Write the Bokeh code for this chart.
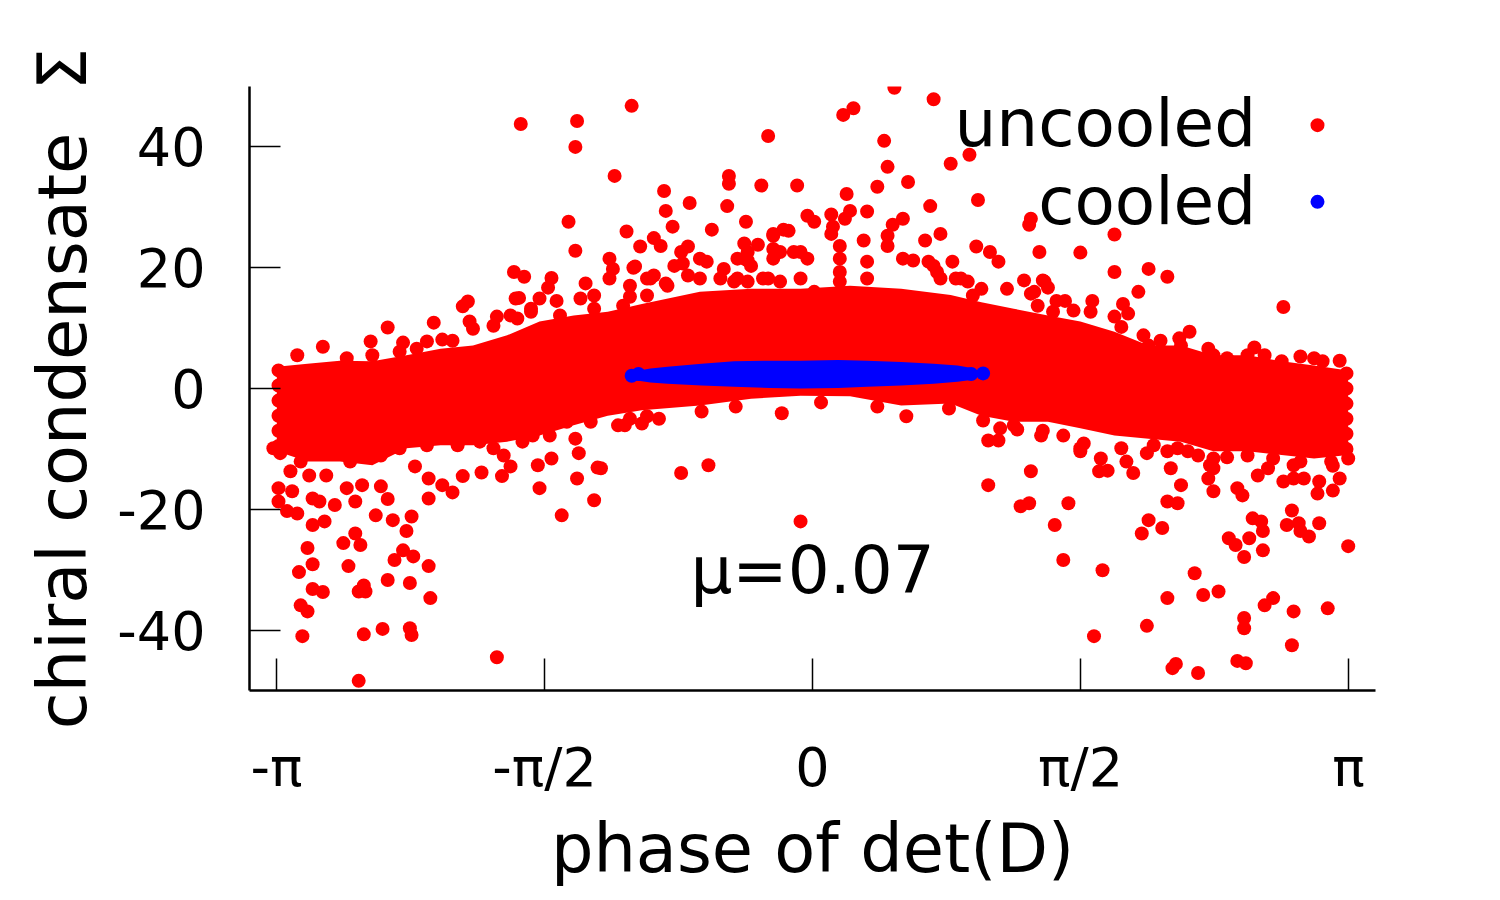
import numpy as np
from bokeh.plotting import figure
from bokeh.models import FixedTicker, Label, Range1d, CustomJSTickFormatter
from bokeh.embed import file_html
from bokeh.resources import INLINE
from bokeh.core.properties import value

FONT = "DejaVu Sans"

# ---- axes ----
x_ticks = [-np.pi, -np.pi / 2, 0.0, np.pi / 2, np.pi]
x_tick_labels = ["-π", "-π/2", "0", "π/2", "π"]
y_ticks = [-40, -20, 0, 20, 40]

# ---- dense core of the uncooled cloud (envelope) ----
band_x = [-3.14, -2.96, -2.77, -2.58, -2.38, -2.18, -1.99, -1.79, -1.60, -1.40,
          -1.20, -1.00, -0.66, -0.36, -0.07, 0.22, 0.52, 0.81, 0.99, 1.18,
          1.38, 1.57, 1.77, 1.97, 2.16, 2.35, 2.55, 2.75, 2.94, 3.14]
band_hi = [3.6, 4.1, 4.6, 4.5, 5.5, 6.6, 7.1, 8.8, 11.1, 12.1,
           12.7, 14.0, 16.0, 16.5, 16.5, 17.0, 16.5, 15.5, 14.3, 13.2,
           12.1, 11.1, 9.4, 7.1, 7.1, 5.5, 5.5, 4.5, 3.8, 3.0]
band_lo = [-10.4, -12.1, -12.1, -12.7, -9.9, -9.4, -9.4, -8.8, -7.8, -6.1,
           -4.5, -3.6, -2.8, -1.7, -1.2, -1.3, -2.8, -2.5, -4.5, -5.5,
           -5.5, -6.6, -7.8, -8.3, -8.8, -10.4, -10.4, -11.0, -11.6, -11.0]

# ---- individual uncooled points above the core ----
uncooled_upper = [
    (0.48, 49.8), (0.71, 47.9), (-1.06, 46.8), (-1.71, 43.8), (-1.38, 44.3), (-1.39, 40.0),
    (0.18, 45.3), (0.24, 46.4), (0.42, 41.0), (-0.26, 41.8), (0.92, 38.7), (0.81, 37.2),
    (-1.16, 35.2), (-0.49, 35.2), (-0.49, 33.9), (0.44, 36.7), (0.56, 34.2), (-0.09, 33.6),
    (-0.30, 33.6), (-0.87, 32.7), (0.97, 31.2), (0.38, 33.4), (0.20, 32.2), (-0.72, 30.7),
    (-0.50, 30.2), (-0.86, 29.4), (-1.43, 27.6), (-0.39, 27.6), (0.69, 30.2), (-0.82, 26.8),
    (-0.59, 26.3), (-1.09, 26.0), (-1.39, 22.8), (-1.01, 23.5), (-0.93, 24.9), (-1.19, 21.5),
    (-1.04, 20.2), (-1.75, 19.3), (-1.69, 18.5), (-1.53, 18.3), (-1.33, 17.4), (-0.32, 23.8),
    (-0.40, 24.0), (-2.02, 14.4), (-2.05, 13.6), (-2.01, 11.1), (-2.22, 10.9), (-2.49, 10.1),
    (-1.85, 11.9), (-1.74, 14.9), (-3.02, 5.5), (-2.87, 6.9), (-2.59, 7.8), (-2.40, 7.6),
    (-2.26, 7.8), (-2.17, 8.1), (-1.72, 15.0), (-1.60, 14.9), (-1.55, 16.7), (-1.50, 14.5),
    (-1.17, 19.8), (-1.19, 18.2), (-1.07, 17.0), (-1.07, 15.2), (0.32, 29.3), (0.53, 28.1),
    (0.47, 27.1), (0.11, 28.8), (0.22, 29.4), (0.19, 28.1), (-0.03, 28.6), (0.01, 27.6),
    (-0.14, 26.1), (0.75, 25.6), (0.66, 24.5), (0.96, 23.5), (1.04, 22.6), (1.09, 21.0),
    (1.28, 28.1), (1.27, 27.1), (1.33, 22.6), (-0.23, 25.6), (-0.17, 26.3), (0.12, 26.8),
    (0.11, 25.6), (0.16, 23.6), (0.16, 21.5), (0.16, 19.3), (0.16, 17.7), (0.30, 24.5),
    (0.32, 21.0), (0.32, 18.2), (0.44, 25.3), (0.44, 23.6), (0.53, 21.5), (0.59, 21.2),
    (0.68, 21.0), (0.82, 21.0), (0.75, 18.2), (0.87, 18.2), (0.91, 17.7), (-1.05, 20.0),
    (-0.97, 18.2), (-0.93, 18.7), (-0.89, 23.6), (-0.77, 22.6), (-0.73, 23.5), (-0.66, 21.5),
    (-0.62, 21.0), (-0.81, 20.3), (-0.76, 20.7), (-0.86, 17.4), (-0.52, 19.8), (-0.44, 21.5),
    (-0.38, 21.2), (-0.38, 22.6), (-0.44, 18.2), (-0.38, 17.7), (-0.23, 23.1), (-0.19, 22.6),
    (-0.11, 22.6), (-0.07, 22.6), (-0.03, 21.5), (-0.26, 18.2), (-0.19, 17.7), (-0.07, 18.2),
    (0.01, 16.0), (0.71, 20.3), (0.73, 19.3), (0.84, 18.2), (0.99, 16.5), (0.94, 15.4),
    (1.14, 16.5), (1.24, 17.9), (1.30, 16.0), (1.36, 17.7), (1.32, 13.7), (1.57, 22.5),
    (1.77, 19.3), (1.97, 19.8), (2.08, 18.5), (1.91, 16.0), (2.76, 13.5), (1.35, 17.9),
    (1.38, 16.7), (1.28, 15.7), (1.43, 14.5), (1.48, 14.5), (1.41, 12.7), (1.53, 12.9),
    (1.64, 14.5), (1.63, 12.7), (1.82, 14.0), (1.85, 12.4), (1.77, 11.9), (1.81, 10.2),
    (1.94, 8.8), (2.04, 7.9), (2.15, 8.3), (2.21, 9.4), (2.32, 6.6), (2.43, 5.0),
    (2.59, 6.8), (2.65, 5.5), (2.86, 5.3), (2.99, 4.5), (3.09, 4.6), (1.77, 25.5),
    (-1.36, 14.9), (-1.28, 15.4), (-0.95, 18.2), (-0.97, 15.4), (-0.85, 17.0), (-0.73, 18.7),
    (-0.66, 18.2), (-0.54, 18.2), (-0.46, 17.7), (-0.29, 18.2), (-0.23, 21.5), (-0.23, 25.3),
    (-0.40, 21.5), (-0.36, 20.3), (-1.73, 11.6), (-1.65, 13.2),
]

# ---- individual uncooled points below the core ----
uncooled_lower = [
    (-3.12, -10.7), (-3.13, -16.5), (-3.05, -17.0), (-3.13, -18.7), (-3.08, -20.3), (-3.02, -20.7),
    (-2.93, -18.2), (-2.89, -18.7), (-2.80, -19.3), (-2.93, -22.6), (-2.86, -22.0), (-2.96, -26.4),
    (-2.93, -29.1), (-3.01, -30.4), (-2.93, -33.2), (-2.87, -33.7), (-3.00, -35.9), (-2.96, -36.9),
    (-2.99, -41.0), (-2.66, -48.4), (-2.63, -40.7), (-2.52, -39.8), (-2.36, -39.7), (-2.35, -40.8),
    (-2.66, -33.6), (-2.62, -33.6), (-2.63, -32.6), (-2.72, -29.4), (-2.75, -25.6), (-2.68, -24.0),
    (-2.65, -25.9), (-2.49, -31.7), (-2.36, -32.2), (-2.24, -34.7), (-2.25, -29.4), (-2.45, -28.4),
    (-2.40, -26.8), (-2.34, -27.8), (-2.56, -21.0), (-2.46, -21.8), (-2.38, -23.6), (-2.35, -21.2),
    (-2.68, -18.7), (-2.49, -18.3), (-2.64, -16.0), (-2.53, -16.2), (-2.73, -16.5), (-3.06, -13.7),
    (-2.95, -14.4), (-2.85, -14.4), (-2.33, -12.9), (-2.25, -14.9), (-2.25, -18.2), (-2.17, -16.0),
    (-2.11, -17.2), (-2.05, -14.5), (-1.94, -13.9), (-1.82, -14.5), (-1.77, -12.9), (-1.60, -16.5),
    (-1.47, -21.0), (-1.85, -44.5), (-1.28, -18.5), (-1.38, -14.9), (-1.26, -13.1), (-1.61, -12.7),
    (-1.53, -11.6), (-1.37, -10.7), (-1.39, -8.3), (-1.14, -6.1), (-0.18, -4.1), (-0.61, -12.7),
    (-0.77, -14.0), (1.03, -8.6), (1.09, -8.6), (1.34, -7.8), (1.28, -13.7), (0.55, -4.6),
    (-1.07, -5.0), (-0.97, -4.6), (-1.24, -13.2), (-0.07, -22.0), (1.03, -16.0), (1.22, -19.5),
    (1.27, -19.0), (1.42, -22.6), (1.00, -5.3), (1.47, -28.4), (1.50, -19.0), (1.65, -41.0),
    (1.70, -30.1), (1.57, -10.4), (1.59, -9.1), (1.69, -11.6), (1.73, -13.6), (1.68, -13.7),
    (1.88, -14.0), (1.84, -12.1), (1.96, -10.7), (1.97, -21.8), (1.93, -24.0), (2.05, -23.1),
    (2.08, -18.7), (2.14, -19.0), (2.16, -16.0), (2.10, -13.2), (2.08, -10.4), (2.14, -9.9),
    (2.24, -30.6), (2.08, -34.7), (1.96, -39.3), (2.29, -34.2), (2.38, -33.6), (2.11, -46.3),
    (2.13, -45.6), (2.26, -47.1), (2.49, -45.1), (2.54, -45.5), (2.53, -38.0), (2.53, -39.7),
    (2.81, -42.5), (3.02, -36.4), (2.65, -35.9), (2.70, -34.7), (2.82, -36.9), (2.44, -24.8),
    (2.48, -25.9), (2.56, -24.8), (2.53, -27.9), (2.64, -26.8), (2.58, -21.5), (2.63, -22.0),
    (2.64, -23.6), (2.81, -20.2), (2.78, -22.6), (2.85, -22.3), (2.86, -23.6), (2.91, -24.5),
    (2.97, -22.3), (3.14, -26.1), (2.35, -17.0), (2.32, -14.9), (2.35, -13.2), (2.52, -17.7),
    (2.49, -16.5), (2.76, -15.4), (2.82, -14.9), (2.88, -14.9), (2.96, -17.4), (2.97, -15.4),
    (3.05, -16.9), (3.09, -14.9), (2.82, -12.7), (2.61, -14.4), (2.67, -13.2), (2.43, -11.4),
    (2.26, -11.1), (2.33, -12.7), (3.05, -12.8), (3.14, -11.6), (-1.10, -6.1), (-1.00, -5.8),
    (-0.90, -5.0), (-0.65, -3.8), (-0.45, -3.0), (0.05, -2.3), (0.38, -3.0), (0.80, -3.3),
    (1.10, -6.6), (1.20, -6.8), (1.35, -7.0),
]

# ---- uncooled points forming the ragged rim of the core ----
uncooled_rim = [
    (-3.13, -9.5), (-3.13, -7.0), (-3.13, -4.5), (-3.13, -2.0), (-3.13, 0.5), (-3.13, 3.0),
    (3.13, -10.0), (3.13, -7.5), (3.13, -5.0), (3.13, -2.5), (3.13, 0.0), (3.13, 2.5),
    (-2.73, 5.0), (-2.58, 5.5), (-2.42, 6.1), (-2.32, 6.6), (-2.11, 7.9), (-1.99, 9.9),
    (-1.87, 10.4), (-1.77, 12.1), (-1.65, 12.7), (-1.48, 12.1), (-1.28, 13.2), (-1.11, 13.7),
    (-3.16, -9.9), (-3.00, -12.1), (-2.71, -12.1), (-2.53, -11.1), (-2.42, -9.9), (-2.26, -9.4),
    (-2.08, -9.4), (-1.95, -8.8), (-1.87, -9.9), (-1.81, -11.1), (-1.70, -8.8), (-1.64, -7.8),
    (-1.54, -7.8), (-1.44, -5.5), (-1.30, -5.5), (1.97, 7.1), (2.16, 7.1), (2.35, 5.5),
    (2.55, 5.5), (2.75, 4.5), (2.94, 5.0), (1.18, -6.1), (1.47, -7.8), (1.57, -9.9),
    (1.81, -9.9), (2.00, -9.4), (2.20, -10.4), (2.35, -11.6), (2.55, -11.1), (2.70, -11.6),
    (2.86, -12.1), (3.04, -12.1), (3.12, -9.9),
]

# ---- cooled configurations: dense blob envelope and its end points ----
cooled_band_x = [-1.05, -0.95, -0.85, -0.65, -0.46, -0.25, -0.07, 0.15, 0.32, 0.52, 0.71, 0.85, 0.95]
cooled_lo = [1.4, 1.0, 0.8, 0.5, 0.3, 0.1, 0.0, 0.1, 0.3, 0.5, 0.8, 1.1, 1.5]
cooled_hi = [2.8, 3.3, 3.6, 4.1, 4.5, 4.6, 4.6, 4.7, 4.6, 4.4, 4.1, 3.8, 3.3]
cooled_points = [(-1.06, 2.1), (-1.02, 2.4), (0.93, 2.4), (1.00, 2.5)]

RED = "#ff0000"
BLUE = "#0000ff"
DOT = 14

p = figure(frame_width=1126, frame_height=604,
           x_range=Range1d(-3.3, 3.3), y_range=Range1d(-50, 50),
           output_backend="svg", toolbar_location=None,
           min_border_left=249, min_border_right=100,
           min_border_top=86, min_border_bottom=194)
p.outline_line_color = None
p.xgrid.visible = False
p.ygrid.visible = False
p.background_fill_color = "white"
p.border_fill_color = "white"

# uncooled
p.varea(x=band_x, y1=band_lo, y2=band_hi, fill_color=RED, fill_alpha=1.0)
for pts in (uncooled_upper, uncooled_lower, uncooled_rim):
    xs, ys = zip(*pts)
    p.scatter(list(xs), list(ys), size=DOT, fill_color=RED, line_color=None)

# cooled
p.varea(x=cooled_band_x, y1=cooled_lo, y2=cooled_hi, fill_color=BLUE, fill_alpha=1.0)
cx, cy = zip(*cooled_points)
p.scatter(list(cx), list(cy), size=DOT, fill_color=BLUE, line_color=None)

# key (label text left, marker right)
key_labels = ["uncooled", "cooled"]
key_colors = [RED, BLUE]
key_text_x = 2.60
key_text_y = [43.8, 30.9]
key_mark_x = 2.96
key_mark_y = [43.6, 30.9]
p.text(x=[key_text_x] * 2, y=key_text_y, text=key_labels, text_align="right",
       text_baseline="alphabetic", text_font_size="66px", text_font=value(FONT),
       text_color="black")
p.scatter(x=[key_mark_x] * 2, y=key_mark_y, size=DOT, fill_color=key_colors, line_color=None)

p.add_layout(Label(x=0.0, y=-30.2, text="μ=0.07", text_align="center",
                   text_baseline="alphabetic", text_font_size="66px",
                   text_font=FONT, text_color="black"))

# axes
p.xaxis.ticker = FixedTicker(ticks=x_ticks)
p.xaxis.formatter = CustomJSTickFormatter(
    args=dict(ts=x_ticks, labs=x_tick_labels),
    code="""let b = 0; for (let i = 0; i < ts.length; i++) {
        if (Math.abs(ts[i] - tick) < Math.abs(ts[b] - tick)) b = i; }
        return labs[b];""")
p.yaxis.ticker = FixedTicker(ticks=y_ticks)
p.yaxis.formatter = CustomJSTickFormatter(code="return String(Math.round(tick));")

for ax in (p.xaxis[0], p.yaxis[0]):
    ax.major_tick_out = 0
    ax.minor_tick_in = 0
    ax.minor_tick_out = 0
    ax.axis_line_width = 2.5
    ax.axis_line_color = "black"
    ax.major_tick_line_width = 1.5
    ax.major_tick_line_color = "black"
    ax.major_label_text_font = FONT
    ax.major_label_text_font_size = "54px"
    ax.major_label_text_color = "black"
    ax.axis_label_text_font = FONT
    ax.axis_label_text_font_size = "67px"
    ax.axis_label_text_font_style = "normal"
    ax.axis_label_text_color = "black"

p.xaxis.major_tick_in = 32
p.xaxis.major_label_standoff = 45
p.xaxis.axis_label = "phase of det(D)"
p.xaxis.axis_label_standoff = 8

p.yaxis.major_tick_in = 31
p.yaxis.major_label_standoff = 44
p.yaxis.axis_label = "chiral condensate\u00a0\u00a0Σ"
p.yaxis.axis_label_standoff = 12

open("out.html", "w").write(file_html(p, INLINE))
